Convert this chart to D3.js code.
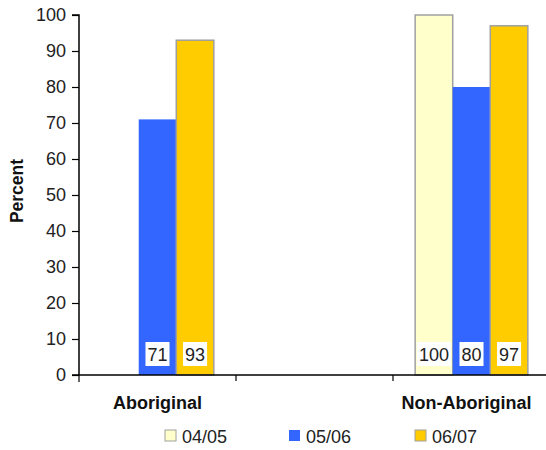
<!DOCTYPE html>
<html><head><meta charset="utf-8">
<script src="https://cdn.jsdelivr.net/npm/d3@7/dist/d3.min.js"></script>
<style>body{margin:0;background:#fff}svg{display:block;font-family:"Liberation Sans",Arial,sans-serif}</style>
</head><body><svg id="c" width="546" height="450"></svg>
<script>
const categories = ["Aboriginal", "", "Non-Aboriginal"];
const seriesNames = ["04/05", "05/06", "06/07"];
const seriesValues = [
  [null, null, 100],
  [71, null, 80],
  [93, null, 97]
];
const colors = ["#FFFFCC", "#3366FF", "#FFCC00"];
const strokes = ["#A0A0A0", "none", "#A0A0A0"];
const yTicks = [0,10,20,30,40,50,60,70,80,90,100];

(function(){
const svg = d3.select("#c");
const mLeft = 79, mBottom = 375, mTop = 15;
const x = d3.scaleBand().domain(categories).range([mLeft, 550]).paddingInner(0).paddingOuter(0);
const y = d3.scaleLinear().domain([0,100]).range([mBottom, mTop]);
const xs = d3.scaleBand().domain(seriesNames).range([0, x.bandwidth()]).paddingOuter(0.59).paddingInner(0);

// bars
seriesNames.forEach((s, si) => {
  categories.forEach((c, ci) => {
    const v = seriesValues[si][ci];
    if (v == null) return;
    const bx = x(c) + xs(s);
    svg.append("rect").attr("x", bx).attr("y", y(v)).attr("width", xs.bandwidth()).attr("height", y(0) - y(v))
      .attr("fill", colors[si]).attr("stroke", strokes[si]).attr("stroke-width", 1.5);
  });
});

// value labels
seriesNames.forEach((s, si) => {
  categories.forEach((c, ci) => {
    const v = seriesValues[si][ci];
    if (v == null) return;
    const cx = x(c) + xs(s) + xs.bandwidth()/2;
    const t = svg.append("text").attr("x", cx).attr("y", 361).attr("text-anchor","middle")
      .attr("font-size", 18).attr("fill", "#222").text(v);
    const w = t.node().getComputedTextLength();
    svg.insert("rect", () => t.node()).attr("x", cx - w/2 - 2).attr("y", 342).attr("width", w + 4).attr("height", 24).attr("fill", "#fff");
  });
});

// y axis
const yAxis = svg.append("g").attr("transform", `translate(${mLeft},0)`)
  .call(d3.axisLeft(y).tickValues(yTicks).tickSize(7).tickPadding(6));
yAxis.select(".domain").attr("stroke","#000").attr("stroke-width",1.5).attr("d", `M-7,${y(100)}H0V${mBottom}`);
yAxis.selectAll(".tick line").attr("stroke","#000").attr("stroke-width",1.2);
yAxis.selectAll("text").attr("font-size", 18).attr("fill", "#222").attr("font-family","Liberation Sans, Arial, sans-serif");

// x axis
const xAxis = svg.append("g").attr("transform", `translate(0,${mBottom})`);
xAxis.append("line").attr("x1", mLeft - 7).attr("x2", 546).attr("y1", 0).attr("y2", 0).attr("stroke","#000").attr("stroke-width",1.5);
categories.forEach(c => {
  const bx = x(c);
  if (bx > mLeft) xAxis.append("line").attr("x1", bx).attr("x2", bx).attr("y1", 0).attr("y2", 6).attr("stroke","#000").attr("stroke-width",1.2);
  if (c) xAxis.append("text").attr("x", bx + x.bandwidth()/2 - (c === "Non-Aboriginal" ? 5 : 0)).attr("y", 34).attr("text-anchor","middle")
    .attr("font-size", 18).attr("font-weight","bold").attr("fill","#111").text(c);
});
svg.append("line").attr("x1", mLeft).attr("x2", mLeft).attr("y1", mBottom).attr("y2", mBottom + 7).attr("stroke","#000").attr("stroke-width",1.2);

// y label
svg.append("text").attr("transform", "translate(23,191) rotate(-90)").attr("text-anchor","middle")
  .attr("font-size", 17.5).attr("font-weight","bold").attr("fill","#111").text("Percent");

// legend
const legX = [165, 289, 415];
seriesNames.forEach((s, i) => {
  svg.append("rect").attr("x", legX[i]).attr("y", 430).attr("width", 11).attr("height", 11)
    .attr("fill", colors[i]).attr("stroke", strokes[i]).attr("stroke-width", 1);
  svg.append("text").attr("x", legX[i] + 17).attr("y", 443).attr("font-size", 18).attr("fill","#222").text(s);
});
})();
</script></body></html>
